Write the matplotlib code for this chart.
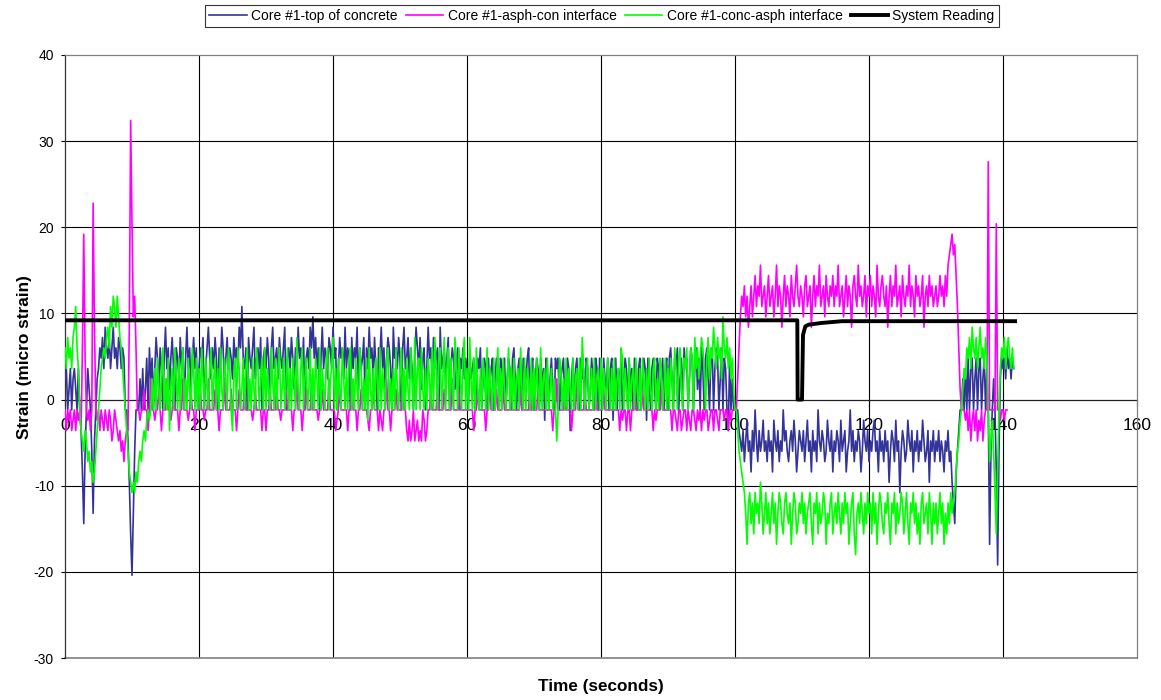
import numpy as np
import matplotlib
matplotlib.use("Agg")
import matplotlib.pyplot as plt

plt.rcParams['font.family'] = ['Liberation Sans', 'DejaVu Sans']
plt.rcParams['axes.unicode_minus'] = False

# ---------------- data ----------------
sample_step = 0.2  # seconds between logged readings

top_of_concrete = [
    2.4, 3.6, -1.2, 1.2, 3.6, -1.2, 2.4, 3.6, 1.2, -1.2, 3.6, -1.2, -3.6, -8.4, -14.4, -6.0, -1.2, 3.6, 1.2, -1.2, -6.0, -13.2, -4.8, -1.2, 2.4,
    3.6, 6.0, 4.8, 7.2, 3.6, 8.4, 6.0, 4.8, 7.2, 3.6, 6.0, 8.4, 4.8, 6.0, 3.6, 7.2, 6.0, 3.6, 6.0, 4.8, -1.2, -1.2, -4.8, -9.6, -15.6,
    -20.4, -13.2, -6.0, -1.2, -1.2, -1.2, 2.4, -1.2, 3.6, -1.2, 1.2, 4.8, -1.2, 6.0, 2.4, 4.8, -1.2, 3.6, 7.2, 4.8, 1.2, 6.0, 3.6, -1.2, 4.8,
    8.4, 3.6, 6.0, 1.2, 4.8, 7.2, 3.6, -1.2, 6.0, 4.8, 2.4, 7.2, 3.6, 6.0, -1.2, 4.8, 8.4, 3.6, 6.0, 1.2, 4.8, 7.2, 3.6, 6.0, -1.2,
    3.6, 6.0, 4.8, 7.2, -1.2, 3.6, 6.0, 8.4, 4.8, 2.4, 6.0, 3.6, 7.2, 4.8, -1.2, 6.0, 3.6, 8.4, 6.0, 1.2, 4.8, 7.2, 3.6, 6.0, 4.8,
    2.4, 7.2, 4.8, 6.0, 3.6, 8.4, 6.0, 10.8, 4.8, 3.6, 6.0, -1.2, 7.2, 4.8, 3.6, 6.0, 8.4, 2.4, 4.8, 6.0, 3.6, 7.2, -1.2, 4.8, 6.0,
    3.6, 7.2, 4.8, -1.2, 6.0, 8.4, 3.6, 4.8, 6.0, 2.4, 7.2, 4.8, 3.6, 6.0, 8.4, -1.2, 4.8, 6.0, 3.6, 7.2, 4.8, 1.2, 6.0, 3.6, 8.4,
    4.8, 6.0, 3.6, 7.2, -1.2, 4.8, 6.0, 3.6, 8.4, 6.0, 9.6, 4.8, 7.2, 3.6, 6.0, -1.2, 4.8, 8.4, 3.6, 6.0, 4.8, 2.4, 7.2, 6.0, 3.6,
    8.4, 4.8, 6.0, -1.2, 3.6, 7.2, 4.8, 6.0, 2.4, 8.4, 3.6, 6.0, 4.8, -1.2, 7.2, 3.6, 6.0, 4.8, 8.4, 1.2, 6.0, 3.6, 4.8, 7.2, -1.2,
    6.0, 3.6, 8.4, 4.8, 6.0, 2.4, 7.2, 3.6, -1.2, 6.0, 4.8, 8.4, 3.6, 6.0, 1.2, 4.8, 7.2, 6.0, 3.6, -1.2, 8.4, 4.8, 6.0, 3.6, 7.2,
    4.8, -1.2, 6.0, 8.4, 3.6, 4.8, 7.2, 2.4, 6.0, 3.6, -1.2, 4.8, 8.4, 6.0, 3.6, 7.2, 1.2, 4.8, 6.0, -1.2, 3.6, 8.4, 4.8, 6.0, 2.4,
    7.2, 3.6, 4.8, 6.0, -1.2, 8.4, 3.6, 4.8, 6.0, 2.4, 4.8, 7.2, -1.2, 3.6, 6.0, 4.8, 1.2, 3.6, 6.0, -1.2, 4.8, 3.6, 6.0, 2.4, 4.8,
    3.6, -1.2, 4.8, 2.4, 3.6, 4.8, -1.2, 1.2, 4.8, 3.6, 6.0, -1.2, 2.4, 4.8, 3.6, -1.2, 4.8, 1.2, 3.6, 4.8, -1.2, 2.4, 4.8, 3.6, -1.2,
    4.8, 3.6, 1.2, 4.8, -1.2, 2.4, 4.8, 3.6, -1.2, 4.8, 6.0, 2.4, -1.2, 3.6, 4.8, 1.2, -1.2, 4.8, 3.6, 2.4, 4.8, 6.0, -1.2, 3.6, 4.8,
    -1.2, 2.4, 4.8, 3.6, -1.2, 4.8, 1.2, 3.6, -2.4, 4.8, 3.6, -1.2, 2.4, 4.8, 1.2, -1.2, 4.8, 3.6, 4.8, -1.2, 2.4, 3.6, 4.8, -1.2, 1.2,
    4.8, 3.6, -3.6, 2.4, 4.8, -1.2, 3.6, 4.8, 1.2, -1.2, 4.8, 2.4, 3.6, -1.2, 4.8, 3.6, -1.2, 1.2, 4.8, 2.4, -1.2, 4.8, 3.6, -1.2, 4.8,
    3.6, -1.2, 4.8, 2.4, 1.2, 4.8, -1.2, 3.6, 4.8, -2.4, 2.4, 4.8, -1.2, 3.6, 1.2, 4.8, -1.2, 2.4, 4.8, 3.6, -1.2, 4.8, 1.2, 3.6, -1.2,
    4.8, 2.4, -1.2, 3.6, 4.8, -1.2, 1.2, 4.8, 3.6, -2.4, 4.8, 2.4, -1.2, 3.6, 4.8, 1.2, -1.2, 4.8, 3.6, -1.2, 2.4, 4.8, -1.2, 3.6, 4.8,
    -1.2, 4.8, 6.0, 2.4, -1.2, 4.8, 3.6, 6.0, -1.2, 2.4, 4.8, -1.2, 6.0, 3.6, 4.8, -1.2, 2.4, 6.0, 4.8, -1.2, 3.6, 6.0, 1.2, 4.8, -1.2,
    6.0, 3.6, -1.2, 4.8, 6.0, 2.4, -1.2, 4.8, 6.0, -1.2, 3.6, 6.0, 4.8, -1.2, 2.4, 6.0, -1.2, 4.8, 3.6, -1.2, -3.6, 4.8, -1.2, 2.4, -1.2,
    -1.2, -1.2, -1.2, -3.6, -4.8, -6.0, -3.6, -7.2, -4.8, -2.4, -6.0, -4.8, -8.4, -3.6, -6.0, -1.2, -4.8, -7.2, -3.6, -6.0, -4.8, -2.4, -6.0, -4.8, -7.2,
    -3.6, -6.0, -4.8, -8.4, -2.4, -4.8, -6.0, -3.6, -7.2, -4.8, -6.0, -1.2, -4.8, -3.6, -6.0, -7.2, -4.8, -3.6, -6.0, -2.4, -4.8, -8.4, -6.0, -3.6, -4.8,
    -6.0, -3.6, -7.2, -4.8, -2.4, -6.0, -4.8, -8.4, -3.6, -6.0, -4.8, -7.2, -1.2, -4.8, -6.0, -3.6, -4.8, -7.2, -6.0, -2.4, -4.8, -6.0, -3.6, -8.4, -4.8,
    -6.0, -3.6, -4.8, -7.2, -2.4, -6.0, -4.8, -3.6, -8.4, -6.0, -4.8, -1.2, -6.0, -3.6, -7.2, -4.8, -6.0, -3.6, -4.8, -8.4, -6.0, -2.4, -4.8, -6.0, -3.6,
    -7.2, -4.8, -6.0, -3.6, -2.4, -6.0, -4.8, -8.4, -3.6, -6.0, -4.8, -7.2, -3.6, -6.0, -4.8, -9.6, -6.0, -3.6, -4.8, -7.2, -2.4, -6.0, -4.8, -10.8, -6.0,
    -3.6, -4.8, -7.2, -6.0, -2.4, -4.8, -6.0, -3.6, -8.4, -4.8, -6.0, -3.6, -7.2, -4.8, -6.0, -2.4, -4.8, -7.2, -6.0, -3.6, -9.6, -4.8, -6.0, -3.6, -7.2,
    -4.8, -6.0, -3.6, -7.2, -4.8, -6.0, -8.4, -4.8, -6.0, -3.6, -7.2, -6.0, -9.6, -12.0, -14.4, -8.4, -6.0, -3.6, -1.2, -1.2, 2.4, -1.2, 3.6, -1.2, 4.8,
    -1.2, 3.6, 4.8, -1.2, 2.4, 4.8, -1.2, 3.6, 4.8, -1.2, 2.4, 4.8, -1.2, 3.6, -1.2, -16.8, -6.0, -1.2, 2.4, -1.2, -8.4, -19.2, -6.0, 2.4, 4.8,
    3.6, 4.8, 2.4, 6.0, 3.6, 4.8, 2.4, 4.8, 3.6,
]

asph_con_interface = [
    -1.2, -3.6, -1.2, -2.4, -1.2, -3.6, -2.4, -1.2, -3.6, -1.2, -2.4, -1.2, -3.6, 6.0, 19.2, 4.8, -1.2, -2.4, -1.2, -3.6, -1.2, 22.8, 8.4, -1.2, -2.4,
    -1.2, -3.6, -1.2, -2.4, -3.6, -1.2, -2.4, -3.6, -1.2, -2.4, -4.8, -3.6, -1.2, -2.4, -3.6, -4.8, -3.6, -6.0, -4.8, -7.2, -4.8, -3.6, -3.6, 8.4, 32.4,
    20.4, 9.6, 12.0, 6.0, -1.2, -1.2, -2.4, -1.2, -1.2, 1.2, -1.2, -1.2, -3.6, -1.2, 2.4, -1.2, -1.2, -2.4, -1.2, -1.2, 1.2, -1.2, -3.6, -1.2, -1.2,
    -1.2, 2.4, -1.2, -1.2, -2.4, -1.2, 1.2, -1.2, -1.2, -1.2, -3.6, -1.2, -1.2, 2.4, -1.2, -1.2, -1.2, -2.4, -1.2, 1.2, -1.2, -1.2, -3.6, -1.2, -1.2,
    -1.2, 1.2, -1.2, -1.2, -2.4, -1.2, -1.2, 2.4, -1.2, -1.2, -1.2, -1.2, 1.2, -1.2, -1.2, -3.6, -1.2, -1.2, -1.2, 2.4, -1.2, -1.2, -1.2, -1.2, 1.2,
    -1.2, -1.2, -1.2, -3.6, -1.2, 1.2, -1.2, -1.2, -1.2, 2.4, -1.2, -1.2, -1.2, -1.2, -1.2, -2.4, -1.2, 1.2, -1.2, -1.2, -1.2, -1.2, -3.6, -1.2, -1.2,
    -3.6, -1.2, -1.2, 1.2, -1.2, -1.2, -1.2, -1.2, 2.4, -1.2, -1.2, -2.4, -1.2, -1.2, -1.2, 1.2, -1.2, -1.2, -1.2, -1.2, -3.6, -1.2, -1.2, 2.4, -1.2,
    -1.2, -1.2, -3.6, -1.2, -1.2, 1.2, -1.2, -1.2, -1.2, 2.4, -1.2, -1.2, -1.2, -1.2, -2.4, -1.2, -1.2, 1.2, -1.2, -1.2, -1.2, -1.2, 2.4, -1.2, -1.2,
    -1.2, -1.2, -3.6, -2.4, -1.2, 1.2, -1.2, -1.2, -1.2, -1.2, -1.2, -3.6, -1.2, -1.2, 2.4, -1.2, -1.2, -1.2, -3.6, -1.2, -1.2, 1.2, -1.2, -1.2, -1.2,
    -1.2, -2.4, -3.6, -1.2, -1.2, 1.2, -1.2, -1.2, -1.2, -3.6, -1.2, -2.4, -3.6, -1.2, -1.2, 2.4, -1.2, -1.2, -3.6, -1.2, -1.2, -1.2, 1.2, -1.2, -1.2,
    -1.2, -1.2, 2.4, -1.2, -1.2, -3.6, -4.8, -2.4, -4.8, -3.6, -1.2, -4.8, -3.6, -2.4, -4.8, -3.6, -4.8, -1.2, -2.4, -4.8, -3.6, -1.2, -1.2, 1.2, -1.2,
    -1.2, -1.2, -1.2, 2.4, -1.2, -1.2, -1.2, -1.2, 1.2, -1.2, -1.2, -1.2, -1.2, -1.2, 2.4, -1.2, -1.2, -1.2, -1.2, 1.2, -1.2, -1.2, -1.2, -1.2, -1.2,
    -1.2, -1.2, -1.2, -1.2, -1.2, -3.6, -1.2, -1.2, 1.2, -1.2, -1.2, -1.2, -1.2, -1.2, -3.6, -1.2, -1.2, 2.4, -1.2, -1.2, -1.2, -1.2, 1.2, -1.2, -1.2,
    -1.2, -1.2, 1.2, -1.2, -1.2, -1.2, -1.2, -1.2, 2.4, -1.2, -1.2, -1.2, -1.2, -1.2, -1.2, 1.2, -1.2, -1.2, -1.2, -1.2, -1.2, -1.2, 2.4, -1.2, -1.2,
    -1.2, -1.2, -1.2, 1.2, -1.2, -1.2, -1.2, -1.2, -1.2, -1.2, -1.2, -1.2, -1.2, -1.2, -3.6, -1.2, -1.2, 2.4, -1.2, -1.2, -1.2, -1.2, -1.2, 1.2, -1.2,
    -1.2, -1.2, -1.2, -3.6, -1.2, -1.2, -1.2, 2.4, -1.2, -1.2, -1.2, -1.2, -1.2, 1.2, -1.2, -1.2, -1.2, -1.2, -1.2, -1.2, -1.2, 2.4, -1.2, -1.2, -1.2,
    -1.2, -1.2, 1.2, -1.2, -1.2, -1.2, -1.2, -1.2, -1.2, -1.2, -1.2, -1.2, -1.2, -1.2, -3.6, -1.2, -2.4, -1.2, -1.2, -3.6, -1.2, -1.2, -3.6, -1.2, -1.2,
    2.4, -1.2, -1.2, -1.2, -1.2, -1.2, 1.2, -1.2, -1.2, -1.2, -1.2, -1.2, -1.2, -1.2, -3.6, -1.2, -2.4, -1.2, -1.2, -1.2, 1.2, -1.2, -1.2, -1.2, -1.2,
    -1.2, -1.2, -1.2, -3.6, -1.2, -1.2, -2.4, -3.6, -1.2, -1.2, -3.6, -2.4, -1.2, -1.2, -3.6, -1.2, -2.4, -3.6, -1.2, -1.2, -2.4, -3.6, -1.2, -2.4, -1.2,
    -3.6, -1.2, -2.4, -1.2, -1.2, -3.6, -2.4, -1.2, -1.2, -3.6, -1.2, -1.2, -2.4, -3.6, -1.2, -1.2, -1.2, -2.4, -1.2, -1.2, -3.6, -1.2, -2.4, -1.2, -1.2,
    -1.2, -1.2, 2.4, 6.0, 9.6, 12.0, 10.8, 13.2, 9.6, 12.0, 8.4, 10.8, 13.2, 9.6, 12.0, 14.4, 10.8, 13.2, 12.0, 15.6, 10.8, 12.0, 13.2, 9.6, 12.0,
    14.4, 10.8, 12.0, 13.2, 9.6, 12.0, 15.6, 10.8, 13.2, 12.0, 8.4, 12.0, 14.4, 10.8, 13.2, 12.0, 9.6, 14.4, 12.0, 10.8, 13.2, 15.6, 12.0, 10.8, 13.2,
    12.0, 9.6, 13.2, 14.4, 10.8, 12.0, 13.2, 8.4, 12.0, 14.4, 10.8, 13.2, 12.0, 15.6, 10.8, 12.0, 13.2, 9.6, 14.4, 12.0, 10.8, 13.2, 12.0, 14.4, 10.8,
    13.2, 12.0, 15.6, 10.8, 12.0, 13.2, 9.6, 12.0, 14.4, 10.8, 13.2, 12.0, 8.4, 13.2, 14.4, 12.0, 10.8, 15.6, 12.0, 13.2, 10.8, 12.0, 14.4, 9.6, 13.2,
    12.0, 14.4, 10.8, 13.2, 12.0, 9.6, 15.6, 12.0, 10.8, 13.2, 14.4, 12.0, 10.8, 13.2, 8.4, 12.0, 14.4, 10.8, 13.2, 12.0, 15.6, 10.8, 12.0, 13.2, 9.6,
    14.4, 12.0, 10.8, 13.2, 12.0, 15.6, 10.8, 13.2, 12.0, 9.6, 14.4, 12.0, 13.2, 10.8, 12.0, 14.4, 8.4, 12.0, 13.2, 10.8, 14.4, 12.0, 13.2, 10.8, 12.0,
    13.2, 10.8, 12.0, 14.4, 12.0, 13.2, 10.8, 14.4, 12.0, 15.6, 16.8, 18.0, 19.2, 16.8, 18.0, 14.4, 10.8, 6.0, 1.2, -1.2, -1.2, -1.2, -2.4, -1.2, -3.6,
    -1.2, -4.8, -2.4, -1.2, -3.6, -1.2, -4.8, -2.4, -3.6, -1.2, -4.8, -2.4, -1.2, -1.2, 27.6, -1.2, -1.2, -1.2, -1.2, -1.2, 20.4, -1.2, -1.2, -2.4, -1.2,
    -1.2, -2.4, -1.2, -1.2,
]

conc_asph_interface = [
    6.0, 3.6, 7.2, 4.8, 6.0, 3.6, 7.2, 8.4, 10.8, 6.0, 3.6, -1.2, -3.6, -4.8, -6.0, -3.6, -4.8, -7.2, -6.0, -8.4, -7.2, -9.6, -8.4, -6.0, -3.6,
    -1.2, 1.2, 3.6, 4.8, 6.0, 4.8, 7.2, 8.4, 6.0, 10.8, 8.4, 12.0, 10.8, 8.4, 12.0, 9.6, 7.2, 6.0, 3.6, 1.2, -1.2, -3.6, -6.0, -8.4, -9.6,
    -10.8, -9.6, -10.8, -8.4, -9.6, -7.2, -6.0, -7.2, -4.8, -3.6, -4.8, -2.4, -1.2, -2.4, -1.2, 2.4, -1.2, 3.6, -1.2, 4.8, 1.2, -1.2, 3.6, 6.0, -1.2,
    2.4, -1.2, 4.8, -3.6, 1.2, 3.6, -1.2, 6.0, 2.4, -1.2, 4.8, -1.2, 3.6, 6.0, -1.2, 2.4, -1.2, 4.8, 1.2, -1.2, 6.0, 3.6, -1.2, 4.8, -1.2,
    3.6, -1.2, 6.0, 2.4, -1.2, 4.8, 1.2, -1.2, 3.6, 6.0, -1.2, 2.4, 4.8, -1.2, 3.6, -1.2, 6.0, 1.2, -1.2, 4.8, 2.4, -1.2, 6.0, 3.6, -1.2,
    -3.6, 2.4, 4.8, -1.2, 6.0, 3.6, -1.2, 1.2, 4.8, -1.2, 3.6, 6.0, -1.2, 2.4, -1.2, 4.8, 1.2, -1.2, 6.0, 3.6, -1.2, 2.4, 4.8, -1.2, 6.0,
    -1.2, 3.6, 1.2, -1.2, 6.0, 2.4, -1.2, 4.8, -1.2, 3.6, 6.0, -1.2, 1.2, 4.8, -1.2, 2.4, 6.0, -1.2, 3.6, -1.2, 4.8, 2.4, -1.2, 7.2, 1.2,
    -1.2, 3.6, 6.0, -1.2, 2.4, 4.8, -1.2, 1.2, 6.0, -1.2, 3.6, -1.2, 4.8, 2.4, -1.2, 6.0, -1.2, 3.6, 1.2, -1.2, 4.8, 6.0, -1.2, 2.4, 3.6,
    7.2, -1.2, 3.6, -1.2, 4.8, 1.2, -1.2, 6.0, 2.4, -1.2, 3.6, -1.2, 4.8, 6.0, -1.2, 2.4, -1.2, 4.8, 1.2, -1.2, 6.0, 3.6, -1.2, 2.4, -1.2,
    4.8, -2.4, 6.0, 1.2, -1.2, 3.6, -1.2, 4.8, 2.4, -1.2, 6.0, -1.2, 3.6, 1.2, -1.2, 4.8, 6.0, -1.2, 2.4, -1.2, 3.6, -1.2, 6.0, 1.2, -1.2,
    2.4, 6.0, -1.2, 3.6, -1.2, 4.8, 1.2, -1.2, 6.0, 2.4, -1.2, 7.2, -1.2, 3.6, 4.8, -1.2, 6.0, 1.2, -1.2, 3.6, -1.2, 4.8, 2.4, -1.2, 6.0,
    -1.2, 7.2, 3.6, -1.2, 4.8, 6.0, -1.2, 2.4, 7.2, -1.2, 3.6, 6.0, -1.2, 4.8, 1.2, -1.2, 7.2, 3.6, -1.2, 6.0, 2.4, -1.2, 4.8, 7.2, -1.2,
    3.6, -1.2, 7.2, 2.4, -1.2, 4.8, -1.2, 6.0, 1.2, -1.2, 3.6, -1.2, 4.8, 2.4, -1.2, 6.0, -1.2, 3.6, 1.2, -1.2, 4.8, -1.2, 2.4, 6.0, -1.2,
    3.6, -1.2, 4.8, 1.2, -1.2, 2.4, 6.0, -1.2, 3.6, -1.2, 4.8, -1.2, 2.4, 3.6, -1.2, 6.0, 1.2, -1.2, 4.8, -1.2, 3.6, 2.4, -1.2, 4.8, -1.2,
    3.6, -1.2, 4.8, 1.2, -1.2, 6.0, -1.2, 2.4, 3.6, -1.2, 4.8, -1.2, 1.2, 3.6, -1.2, 2.4, -1.2, -4.8, -1.2, 4.8, 3.6, -1.2, 2.4, -1.2, 4.8,
    -1.2, 3.6, 1.2, -1.2, 4.8, -1.2, 2.4, 3.6, -1.2, 4.8, -1.2, 7.2, 3.6, -1.2, 2.4, 4.8, -1.2, 1.2, 3.6, -1.2, 4.8, -1.2, 2.4, 3.6, -1.2,
    4.8, -1.2, 3.6, 1.2, -1.2, 4.8, 2.4, -1.2, 3.6, -1.2, 4.8, -1.2, 2.4, 3.6, -1.2, 6.0, 4.8, -1.2, 3.6, 1.2, -1.2, 4.8, -1.2, 2.4, 3.6,
    -1.2, 4.8, 1.2, -1.2, 3.6, -1.2, 4.8, 2.4, -1.2, 3.6, -1.2, 4.8, 1.2, -1.2, 3.6, 4.8, -1.2, 2.4, -1.2, 4.8, 3.6, -1.2, 1.2, 4.8, -1.2,
    3.6, -1.2, 4.8, 2.4, -1.2, 6.0, 3.6, -1.2, 4.8, 6.0, 1.2, -1.2, 4.8, 3.6, 6.0, -1.2, 2.4, 6.0, 4.8, -1.2, 7.2, 3.6, 6.0, 2.4, 4.8,
    7.2, 6.0, 3.6, -1.2, 4.8, 7.2, 2.4, 6.0, 4.8, 8.4, 6.0, 3.6, 7.2, 4.8, 6.0, 2.4, 9.6, 6.0, 4.8, 7.2, 3.6, 6.0, 2.4, 4.8, 1.2,
    -1.2, -1.2, -3.6, -6.0, -7.2, -8.4, -9.6, -10.8, -13.2, -16.8, -12.0, -10.8, -14.4, -12.0, -15.6, -10.8, -13.2, -12.0, -14.4, -9.6, -12.0, -15.6, -13.2, -10.8, -14.4,
    -12.0, -15.6, -13.2, -10.8, -14.4, -12.0, -16.8, -13.2, -10.8, -12.0, -14.4, -15.6, -12.0, -10.8, -13.2, -14.4, -12.0, -16.8, -13.2, -10.8, -12.0, -15.6, -14.4, -12.0, -13.2,
    -10.8, -14.4, -12.0, -15.6, -13.2, -12.0, -10.8, -14.4, -16.8, -12.0, -13.2, -10.8, -15.6, -12.0, -14.4, -13.2, -10.8, -12.0, -16.8, -13.2, -14.4, -12.0, -10.8, -15.6, -13.2,
    -12.0, -14.4, -10.8, -13.2, -15.6, -12.0, -14.4, -10.8, -13.2, -12.0, -16.8, -14.4, -12.0, -10.8, -15.6, -18.0, -13.2, -12.0, -14.4, -10.8, -13.2, -15.6, -12.0, -14.4, -10.8,
    -13.2, -12.0, -15.6, -10.8, -14.4, -12.0, -16.8, -13.2, -10.8, -12.0, -14.4, -15.6, -12.0, -13.2, -10.8, -14.4, -16.8, -12.0, -13.2, -10.8, -15.6, -12.0, -14.4, -13.2, -10.8,
    -12.0, -15.6, -13.2, -10.8, -14.4, -16.8, -12.0, -13.2, -10.8, -14.4, -12.0, -15.6, -13.2, -16.8, -12.0, -10.8, -14.4, -13.2, -12.0, -15.6, -10.8, -13.2, -16.8, -12.0, -14.4,
    -12.0, -15.6, -13.2, -10.8, -14.4, -12.0, -16.8, -13.2, -15.6, -12.0, -14.4, -10.8, -13.2, -12.0, -10.8, -8.4, -6.0, -4.8, -2.4, -1.2, 1.2, 3.6, 2.4, 6.0, 4.8,
    7.2, 3.6, 8.4, 6.0, 4.8, 7.2, 3.6, 6.0, 8.4, 4.8, 6.0, 3.6, 7.2, 4.8, -1.2, -7.2, -4.8, -2.4, -6.0, -10.8, -15.6, -8.4, -1.2, 3.6, 6.0,
    4.8, 7.2, 3.6, 6.0, 7.2, 4.8, 3.6, 6.0, 3.6,
]

system_time = [0.0, 109.3, 109.35, 110.0, 110.15, 110.5, 111.0, 113.0, 116.0, 141.8]
system_reading = [9.2, 9.2, 0.0, 0.0, 7.5, 8.5, 8.7, 8.9, 9.1, 9.1]

series_names = ["Core #1-top of concrete", "Core #1-asph-con interface",
                "Core #1-conc-asph interface", "System Reading"]
series_colors = ["#333399", "#FF00FF", "#00FF00", "#000000"]

x_ticks = [0, 20, 40, 60, 80, 100, 120, 140, 160]
y_ticks = [-30, -20, -10, 0, 10, 20, 30, 40]

# ---------------- figure ----------------
W, H = 1161, 700
fig = plt.figure(figsize=(W / 100, H / 100), dpi=100)
ax = fig.add_axes([65 / W, 1 - 658 / H, (1137 - 65) / W, (658 - 55) / H])

t_blue = np.arange(len(top_of_concrete)) * sample_step
t_pink = np.arange(len(asph_con_interface)) * sample_step
t_green = np.arange(len(conc_asph_interface)) * sample_step

ax.plot(t_blue, top_of_concrete, color=series_colors[0], lw=1.2,
        label=series_names[0], zorder=3)
ax.plot(t_pink, asph_con_interface, color=series_colors[1], lw=1.2,
        label=series_names[1], zorder=3)
ax.plot(t_green, conc_asph_interface, color=series_colors[2], lw=1.2,
        label=series_names[2], zorder=3)
ax.plot(system_time, system_reading, color=series_colors[3], lw=2.8,
        label=series_names[3], zorder=4)

ax.set_xlim(0, 160)
ax.set_ylim(-30, 40)
ax.set_xticks(x_ticks)
ax.set_yticks(y_ticks)

# gridlines
for yv in y_ticks:
    if yv not in (-30, 0, 40):
        ax.axhline(yv, color="black", lw=0.8, zorder=1)
for xv in x_ticks[1:-1]:
    ax.axvline(xv, color="black", lw=0.8, zorder=1)

# spines
ax.spines['bottom'].set_position(('data', 0))
ax.spines['bottom'].set_color('#222222')
ax.spines['bottom'].set_linewidth(0.9)
ax.spines['left'].set_color('#333333')
ax.spines['left'].set_linewidth(0.9)
for s in ('top', 'right'):
    ax.spines[s].set_color('#808080')
    ax.spines[s].set_linewidth(0.9)
ax.axhline(-30, color='#808080', lw=1.2, clip_on=False, zorder=1)
ax.spines['bottom'].set_zorder(2)

ax.tick_params(axis='x', direction='out', length=4, width=0.8, pad=9, labelsize=12.5, colors='black')
ax.tick_params(axis='y', direction='out', length=3, width=0.8, pad=5, labelsize=10, colors='black')

fig.text(25 / W, 1 - 357 / H, "Strain (micro strain)", rotation=90, ha='center', va='center',
         fontsize=12.4, fontweight='bold')
fig.text(601 / W, 1 - 687 / H, "Time (seconds)", ha='center', va='center',
         fontsize=12.3, fontweight='bold')

leg = fig.legend(loc='center', bbox_to_anchor=(602 / W, 1 - 16 / H), ncol=4, fontsize=10.0,
                 frameon=True, fancybox=False, edgecolor='black', handlelength=2.7,
                 columnspacing=0.6, handletextpad=0.3, borderpad=0.3, borderaxespad=0)
leg.get_frame().set_linewidth(0.8)

fig.savefig("out.png", dpi=100)
